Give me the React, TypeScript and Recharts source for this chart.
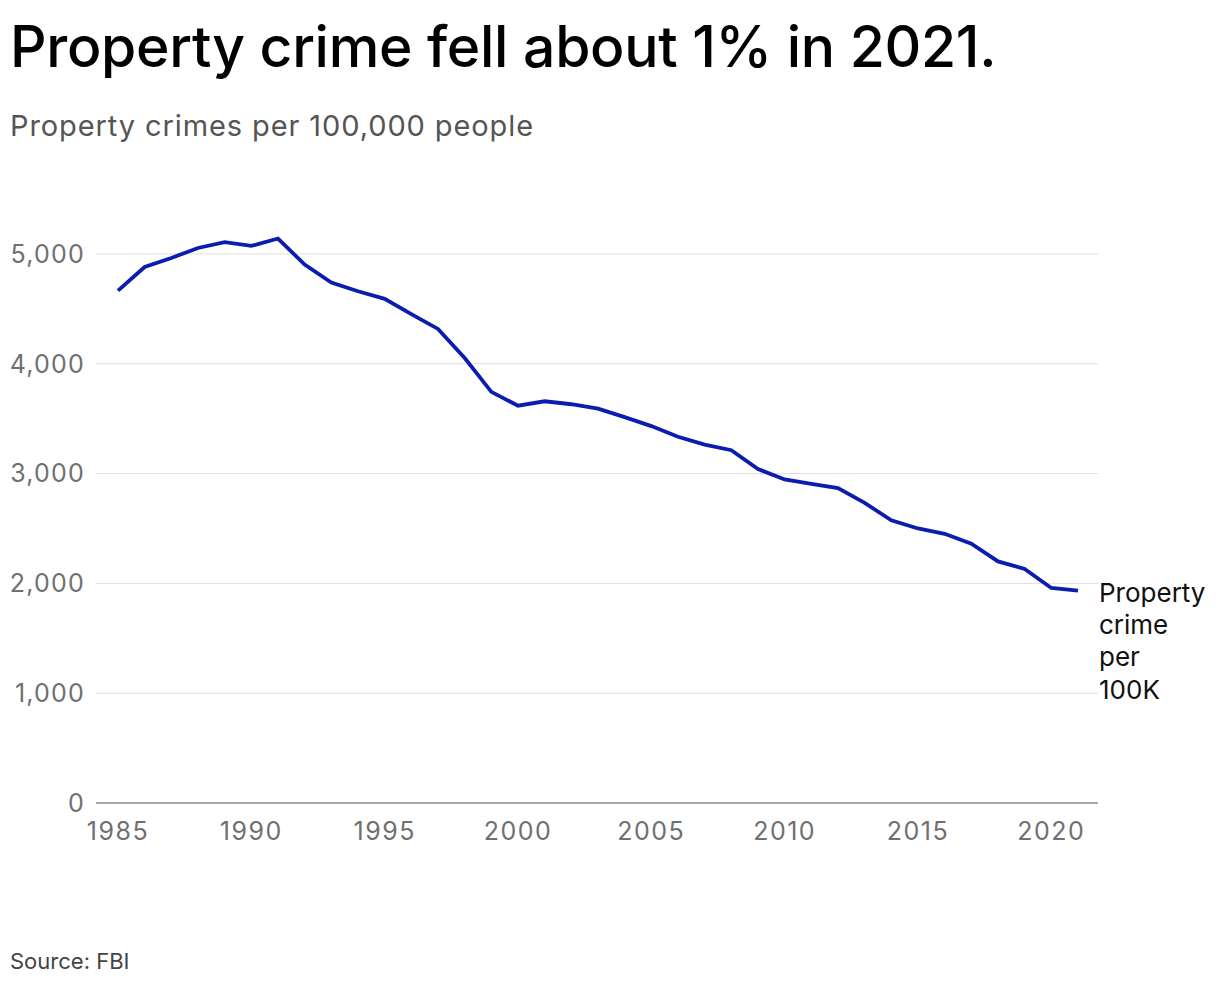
import { LineChart, Line, XAxis, YAxis, ReferenceLine } from 'recharts';

const years = [
  1985, 1986, 1987, 1988, 1989, 1990, 1991, 1992, 1993, 1994, 1995, 1996,
  1997, 1998, 1999, 2000, 2001, 2002, 2003, 2004, 2005, 2006, 2007, 2008,
  2009, 2010, 2011, 2012, 2013, 2014, 2015, 2016, 2017, 2018, 2019, 2020, 2021,
];
const rates = [
  4666, 4881, 4963, 5054, 5107, 5073, 5140, 4903, 4740, 4660, 4591, 4451,
  4317, 4052, 3744, 3618, 3658, 3631, 3591, 3514, 3432, 3335, 3264, 3212,
  3041, 2946, 2905, 2868, 2733, 2574, 2500, 2451, 2362, 2200, 2131, 1958, 1933,
];
const yTicks = [0, 1000, 2000, 3000, 4000, 5000];
const xTicks = [1985, 1990, 1995, 2000, 2005, 2010, 2015, 2020];
const seriesLabel = ['Property', 'crime', 'per', '100K'];

const data = years.map((year, i) => ({ year, rate: rates[i] }));

const FONT = 'Inter, "Noto Sans", sans-serif';

function EndLabel(props: any) {
  const { x, y, index } = props;
  if (index !== data.length - 1) return null;
  return (
    <text x={x + 21} y={y + 11} fill="#111" fontSize={26} fontFamily={FONT}>
      {seriesLabel.map((t, i) => (
        <tspan key={t} x={x + 21} dy={i === 0 ? 0 : 32.3}>{t}</tspan>
      ))}
    </text>
  );
}

export default function App() {
  return (
    <div style={{ position: 'relative', width: 1204, height: 974, fontFamily: FONT, background: '#fff' }}>
      <div style={{ position: 'absolute', left: 2, top: 4, fontSize: 57, fontWeight: 500, color: '#000', letterSpacing: -0.3, whiteSpace: 'nowrap' }}>
        Property crime fell about 1% in 2021.
      </div>
      <div style={{ position: 'absolute', left: 2, top: 100, fontSize: 29, color: '#555', letterSpacing: 0.9, whiteSpace: 'nowrap' }}>
        Property crimes per 100,000 people
      </div>
      <div style={{ position: 'absolute', left: 0, top: 142 }}>
        <LineChart width={1204} height={713} data={data} margin={{ top: 49, right: 114, left: 0, bottom: 0 }}>
          {yTicks.filter((v) => v > 0).map((v) => (
            <ReferenceLine key={v} y={v} stroke="#dedede" strokeWidth={1} />
          ))}
          <XAxis
            dataKey="year"
            type="number"
            domain={[1985, 2021]}
            ticks={xTicks}
            padding={{ left: 22, right: 20 }}
            tickLine={false}
            tickSize={0}
            tickMargin={19}
            axisLine={{ stroke: '#8a8a8a', strokeWidth: 1.5 }}
            tick={{ fill: '#707070', fontSize: 25, fontFamily: FONT, letterSpacing: 1.5 }}
            height={60}
            interval={0}
          />
          <YAxis
            domain={[0, 5500]}
            ticks={yTicks}
            tickFormatter={(v: number) => v.toLocaleString('en-US')}
            axisLine={false}
            tickLine={false}
            tickSize={0}
            tickMargin={11}
            width={88}
            tick={{ fill: '#707070', fontSize: 25, fontFamily: FONT, letterSpacing: 1.2 }}
            interval={0}
          />
          <Line
            type="linear"
            dataKey="rate"
            stroke="#0b1dae"
            strokeWidth={3.8}
            dot={false}
            isAnimationActive={false}
            label={<EndLabel />}
          />
        </LineChart>
      </div>
      <div style={{ position: 'absolute', left: 2, top: 940, fontSize: 22, color: '#444', whiteSpace: 'nowrap' }}>
        Source: FBI
      </div>
    </div>
  );
}
